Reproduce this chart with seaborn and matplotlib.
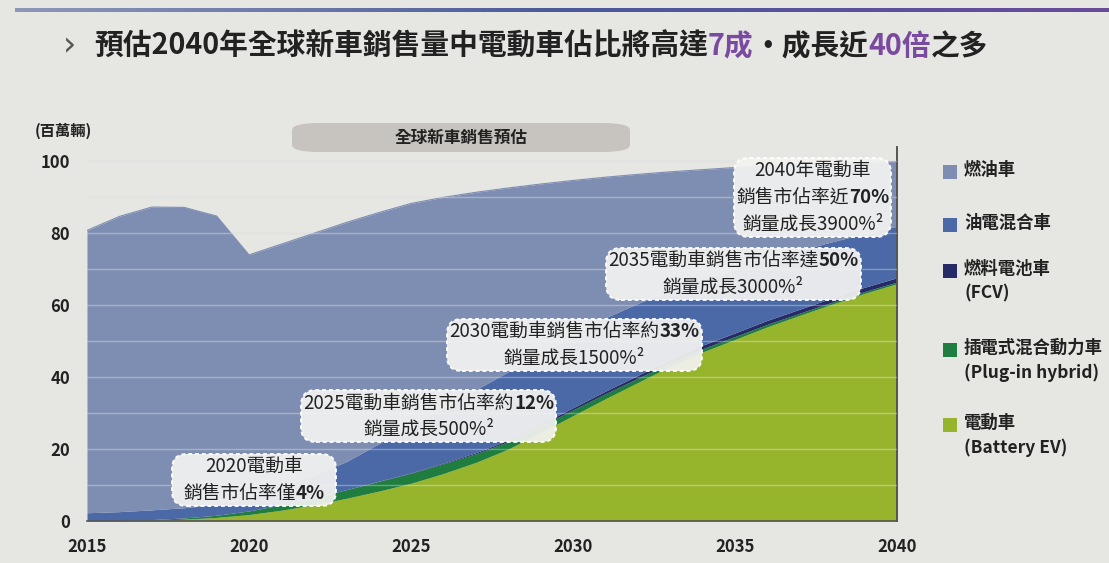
import matplotlib
matplotlib.use("Agg")
import matplotlib.pyplot as plt
import numpy as np
import pandas as pd
import seaborn as sns
from matplotlib.offsetbox import TextArea, HPacker, VPacker, AnnotationBbox
from matplotlib.patches import FancyBboxPatch, Rectangle

# ---- data: global new-vehicle sales forecast (million units) ----
years = list(range(2015, 2041))
battery_ev = [0.0, 0.05, 0.2, 0.5, 1.0, 1.8, 3.0, 4.5, 6.3, 8.3, 10.5, 13.2, 16.3,
              20.0, 24.6, 29.3, 34.0, 38.5, 43.0, 47.0, 50.5, 54.0, 57.2, 60.3, 63.3, 66.0]
plug_in_hybrid = [0.0, 0.1, 0.2, 0.35, 0.6, 1.0, 1.5, 2.0, 2.4, 2.7, 2.8, 2.7, 2.4,
                  2.1, 1.8, 1.6, 1.4, 1.2, 1.0, 0.9, 0.8, 0.7, 0.6, 0.55, 0.5, 0.45]
fuel_cell = [0, 0, 0, 0, 0, 0, 0, 0, 0, 0.05, 0.1, 0.2, 0.3,
             0.4, 0.5, 0.6, 0.7, 0.8, 0.9, 1.0, 1.0, 1.1, 1.1, 1.2, 1.2, 1.2]
hybrid = [2.3, 2.45, 2.7, 2.85, 3.0, 3.7, 5.0, 6.3, 7.8, 10.4, 13.1, 15.4, 17.5,
          19.0, 19.6, 20.0, 20.4, 20.0, 19.1, 18.1, 17.7, 17.0, 16.4, 15.6, 14.9, 14.3]
combustion = [78.5, 82.1, 84.2, 83.5, 80.2, 67.5, 67.5, 67.2, 66.5, 64.3, 61.8, 58.5, 54.9,
              51.1, 47.2, 43.2, 39.1, 35.9, 33.1, 30.7, 28.3, 26.0, 23.9, 21.8, 19.9, 18.0]

series_labels = ["燃油車", "油電混合車", "燃料電池車\n(FCV)",
                 "插電式混合動力車\n(Plug-in hybrid)", "電動車\n(Battery EV)"]
x_ticks = [2015, 2020, 2025, 2030, 2035, 2040]
y_ticks = [0, 20, 40, 60, 80, 100]

# ---- style ----
sns.set_theme(style="white")
plt.rcParams["font.family"] = ["Noto Sans CJK TC", "DejaVu Sans"]

BG = "#e6e6e2"
C_ICE = "#7e8db2"
C_HYB = "#4b69a6"
C_FCV = "#262a66"
C_PHEV = "#1f7d3f"
C_BEV = "#97b42d"
TXT = "#222222"
PURPLE = "#7a4aa0"

W, H = 1109, 563
fig = plt.figure(figsize=(W / 100, H / 100), dpi=100, facecolor=BG)


def fx(px):
    return px / W


def fy(py):
    return 1 - py / H


ax = fig.add_axes([fx(87), fy(521), fx(897) - fx(87), fy(147) - fy(521)])
ax.set_facecolor("none")

df = pd.DataFrame({
    "year": years,
    "bev": battery_ev,
    "phev": plug_in_hybrid,
    "fcv": fuel_cell,
    "hybrid": hybrid,
    "ice": combustion,
})
df["total"] = df[["bev", "phev", "fcv", "hybrid", "ice"]].sum(axis=1)

# faint background grid
for v in range(10, 101, 10):
    ax.axhline(v, color="#d3d5da", lw=1.0, zorder=0)

ax.stackplot(df["year"], df["bev"], df["phev"], df["fcv"], df["hybrid"], df["ice"],
             colors=[C_BEV, C_PHEV, C_FCV, C_HYB, C_ICE], linewidth=0, zorder=1)
sns.lineplot(data=df, x="year", y="total", ax=ax, color=C_ICE, lw=0.8, zorder=2)

# light grid lines over the areas
for v in range(10, 101, 10):
    ax.axhline(v, color="white", alpha=0.32, lw=1.0, zorder=3)

ax.set_xlim(2015, 2040)
ax.set_ylim(0, 104)
ax.set_xticks(x_ticks)
ax.set_yticks(y_ticks)
ax.set_xticklabels([str(t) for t in x_ticks], fontsize=12, fontweight="bold", color=TXT)
ax.set_yticklabels([str(t) for t in y_ticks], fontsize=12, fontweight="bold", color=TXT)
ax.set_xlabel("")
ax.set_ylabel("")
ax.tick_params(axis="x", length=8, width=1.2, color="#555555", pad=4, direction="out")
ax.tick_params(axis="y", length=0, pad=12)
ax.set_yticks([0], minor=True)
ax.tick_params(axis="y", which="minor", length=9, width=1.2, color="#555555")
for s in ["top", "left"]:
    ax.spines[s].set_visible(False)
ax.spines["bottom"].set_color("#555555")
ax.spines["bottom"].set_linewidth(1.2)
ax.spines["right"].set_color("#555555")
ax.spines["right"].set_linewidth(1.4)


def callout(x, y, lines, fs=13.5, width=None):
    rows = []
    for segs in lines:
        parts = [TextArea(t, textprops=dict(fontsize=fs, color=TXT,
                                            fontweight="bold" if b else "normal"))
                 for t, b in segs]
        rows.append(HPacker(children=parts, pad=0, sep=0, align="baseline"))
    box = VPacker(children=rows, pad=0, sep=4, align="center", width=width)
    ab = AnnotationBbox(box, (x, y), xycoords="data", frameon=True, pad=0.75,
                        box_alignment=(0.5, 0.5), zorder=5,
                        bboxprops=dict(boxstyle="round,pad=0.15,rounding_size=1.0",
                                       fc="#f3f3f1", ec="white", lw=1.4,
                                       ls=(0, (2, 1.5)), alpha=0.93))
    ax.add_artist(ab)


callout(2020.15, 11.4, [[("2020電動車", False)],
                        [("銷售市佔率僅", False), ("4%", True)]], width=160)
callout(2025.55, 29.1, [[("2025電動車銷售市佔率約", False), ("12%", True)],
                        [("銷量成長500%²", False)]])
callout(2030.05, 49.0, [[("2030電動車銷售市佔率約", False), ("33%", True)],
                        [("銷量成長1500%²", False)]])
callout(2034.95, 68.8, [[("2035電動車銷售市佔率達", False), ("50%", True)],
                        [("銷量成長3000%²", False)]])
callout(2037.4, 90.0, [[("2040年電動車", False)],
                       [("銷售市佔率近", False), ("70%", True)],
                       [("銷量成長3900%²", False)]])

# unit label and chart banner
fig.text(fx(35), fy(131), "(百萬輛)", fontsize=11, fontweight="bold", color=TXT,
         ha="left", va="center")
banner = FancyBboxPatch((fx(292), fy(152)), fx(630) - fx(292), fy(123) - fy(152),
                        boxstyle="round,pad=0,rounding_size=0.025",
                        transform=fig.transFigure, fc="#c7c3be", ec="none",
                        mutation_aspect=H / W)
fig.add_artist(banner)
fig.text(fx(461), fy(138), "全球新車銷售預估", fontsize=12, fontweight="bold",
         color=TXT, ha="center", va="center")

# legend
legend_colors = [C_ICE, C_HYB, C_FCV, C_PHEV, C_BEV]
legend_rows = [172, 225, 271, 350, 425]
for lab, col, py in zip(series_labels, legend_colors, legend_rows):
    fig.add_artist(Rectangle((fx(943), fy(py + 7)), fx(14), 14 / H,
                             transform=fig.transFigure, fc=col, ec="none"))
    fig.text(fx(964), fy(py - 11), lab, fontsize=12.5, fontweight="bold",
             color=TXT, ha="left", va="top", linespacing=1.45)

# title
title_parts = [("預估2040年全球新車銷售量中電動車佔比將高達", TXT), ("7成", PURPLE),
               ("・成長近", TXT), ("40倍", PURPLE), ("之多", TXT)]
title_box = HPacker(children=[TextArea(t, textprops=dict(fontsize=20.7, fontweight="bold",
                                                         color=c))
                              for t, c in title_parts],
                    pad=0, sep=0, align="baseline")
fig.add_artist(AnnotationBbox(title_box, (fx(94), fy(46)), xycoords="figure fraction",
                              box_alignment=(0, 0.5), frameon=False, pad=0))
fig.text(fx(70), fy(46), "›", fontsize=24, color="#555555", ha="center", va="center",
         family="DejaVu Sans")

# thin gradient strip along the top edge of the slide
grad_ax = fig.add_axes([fx(15), fy(12), 1 - fx(15), 4 / H])
grad_ax.imshow(np.linspace(0, 1, 256)[None, :], aspect="auto",
               cmap=matplotlib.colors.LinearSegmentedColormap.from_list(
                   "band", ["#8d97b8", "#4a5a9a", "#6a4b9a"]))
grad_ax.axis("off")

fig.savefig("out.png", dpi=100, facecolor=BG)
